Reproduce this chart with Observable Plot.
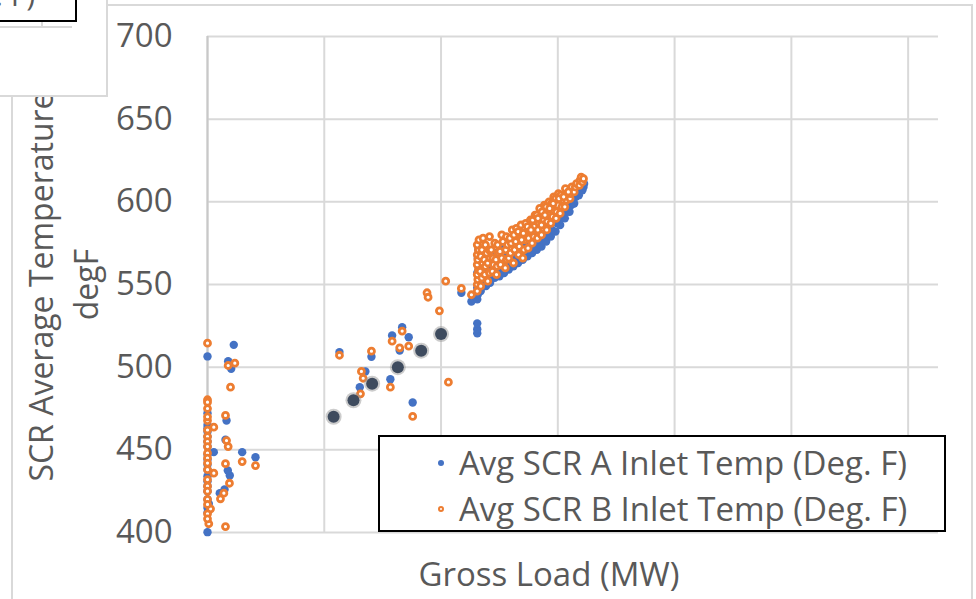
<!DOCTYPE html>
<html>
<head>
<meta charset="utf-8">
<script src="https://cdn.jsdelivr.net/npm/d3@7"></script>
<script src="https://cdn.jsdelivr.net/npm/@observablehq/plot@0.6"></script>
<style>
  html, body { margin: 0; padding: 0; background: #fff; }
  #wrap { position: relative; width: 976px; height: 599px; overflow: hidden; font-family: "Open Sans", sans-serif; color: #595959; }
  #wrap svg { position: absolute; left: 0; top: 0; }
  .frame { position: absolute; left: 11px; top: 4px; width: 962px; height: 620px; border: 2px solid #d9d9d9; box-sizing: border-box; }
  .legend { position: absolute; left: 378px; top: 435px; width: 568px; height: 97px; border: 2px solid #000; background: #fff; box-sizing: border-box; }
  .legend .row { position: absolute; left: 0; height: 44px; font-size: 33px; line-height: 44px; white-space: nowrap; }
  .legend .row span.t { position: absolute; left: 79px; top: 0; }
  .legend .mk { position: absolute; left: 58px; width: 6px; height: 6px; border-radius: 50%; top: 19px; box-sizing: border-box; }
  .topbox { position: absolute; left: -2px; top: -2px; width: 110px; height: 99px; background: #fff; border: 2px solid #d9d9d9; box-sizing: border-box; }
  .blackbox { position: absolute; left: -2px; top: -2px; width: 79px; height: 24px; border: 2px solid #000; background: #fff; box-sizing: border-box; overflow: hidden; }
  .blackbox span { position: absolute; right: 40px; top: -25px; font-size: 30px; line-height: 40px; white-space: nowrap; }
  .hline { position: absolute; left: 0; top: 26px; width: 72px; height: 2px; background: #d9d9d9; }
  .vtick { position: absolute; left: 41px; top: 21px; width: 2px; height: 6px; background: #d9d9d9; }
</style>
</head>
<body>
<div id="wrap"></div>
<script>
// Y axis ticks and X gridlines
const yTicks = [400, 450, 500, 550, 600, 650, 700];
const xGrid = [0, 100, 200, 300, 400, 500, 600];

// Series A: Avg SCR A Inlet Temp (Deg. F)  [load, temp]
const seriesA = [
  [0,400.2],[0,412],[0,415],[1.1,417.4],[0,420],[10.5,423.8],[0,425],[14.6,426],[0,428],[0,431],
  [19.1,434.5],[0,434],[17.4,437.5],[0,438],[0,441],[0,444],[41.1,445.5],[0,447],[5.4,448.6],[29.7,448.6],
  [0,452],[0,455],[15.4,456.1],[0,458],[0,461],[0,463],[0,465],[16.3,467.7],[0,472.2],[20.3,499.0],
  [17.7,503.6],[0,506.5],[22.5,513.5],
  [113,509.1],[140.4,506.3],[166.7,524.2],[158.1,519.2],[172.3,518.1],[164.6,510.1],[135.2,497.4],
  [130.4,487.9],[156.6,492.7],[175.7,478.6],[217.4,545],[226,539.7],
  [231,520.5],[231,523],[231,526.5],
  [231,541],[231.5,544],[231,548],[232,552],[231,557],[232,561],[231.5,566],[232,571],
  [234,546],[235.5,551],[236,556],[235,562],[237,568],
  [238.5,549],[239,554],[240,559],[239,565],
  [242,551],[243.5,555],[244,560],[242.5,567],
  [246,554],[247,557],[248.5,562],[247,569],
  [250,555],[251.5,559],[252,565],[250.5,571],
  [254,557],[255,562],[256.5,567],[255,573],
  [258,559],[259.5,562],[260,569],[258.5,575],
  [262,561],[263,566],[264.5,571],[263,577],
  [266,563],[267.5,567],[268,573],[266.5,579],
  [270,565],[271,568],[272.5,575],[271,581],
  [274,567],[275.5,571],[276,577],[274.5,583],
  [278,569],[279,573],[280.5,579],[279,585],
  [282,571],[283.5,575],[284,581],[282.5,588],
  [286,573],[287,577],[288.5,584],[287,591],
  [290,576],[291.5,580],[292,586],[290.5,593],
  [294,579],[295,583],[296.5,589],[295,596],
  [298,582],[299.5,587],[300,592],[299,598],
  [302,586],[303,590],[304.5,596],[303,601],
  [306,590],[307.5,594],[308,599],
  [310,594],[311.5,598],[312,603],
  [314,599],[315.5,603],[316,606],
  [318,604],[319,607],[320,609],
  [321,607],[322,609],[322.5,611]
];

// Series B: Avg SCR B Inlet Temp (Deg. F)  [load, temp]
const seriesB = [
  [0,514.5],[23.4,502.4],[17.7,501.0],[19.7,487.9],[0,480.3],[0,478.8],[15.4,470.8],[0,467.7],[5.4,463.7],
  [16.3,455.6],[17.7,452.0],[29.7,442.9],[41.1,440.5],[15.4,441.6],[5.4,435.9],[18.8,429.8],[14.0,423.8],
  [11.1,420.4],[2.6,414.3],[1.1,405.3],[15.4,403.6],[0,411.3],[0,408.3],
  [0,475],[0,470],[0,462],[0,458],[0,455],[0,452],[0,448],[0,445],[0,442],[0,438],[0,432],[0,428],
  [0,425],[0,420],[0,417],
  [113,507.2],[140.4,509.7],[166.7,521.8],[158.1,515.7],[164.6,511.7],[172.3,512.7],[131.8,497.4],
  [133.3,493.3],[131.0,483.9],[156.6,487.9],[175.7,470.2],[206.3,490.9],[198.6,534.1],[188.0,545.0],
  [188.9,542.3],[204.0,552.0],[217.4,547.6],[226.0,543.8],
  [231,546],[231,550],[231.5,553],[231,556],[232,559],[231,562],[231.5,565],[231,568],[232,571],[231,574],[232.5,577],
  [234,549],[235,554],[233.5,558],[235.5,563],[234,567],[235,571],[236,578],
  [237.5,556],[238,561],[237,565],[239,569],[238,574],
  [240,552],[241.5,557],[240,563],[242,566],[241,571],[241.5,579],
  [244,558],[245,562],[244.5,566],[243,571],[246,575],
  [247.5,556],[248,561],[247,565],[249,569],[248.5,574],
  [251,562],[252,566],[250.5,570],[253,576],[252,580],
  [255,560],[256,565],[255.5,571],[257,574],[256,579],
  [258,566],[259.5,569],[260,575],[259,578],[261,583],
  [262,563],[263,571],[264,576],[262.5,580],[264.5,584],
  [266.5,568],[267,573],[268,578],[266,582],[268.5,586],
  [270,566],[271,571],[272,577],[270.5,581],[272.5,587],
  [274.5,572],[275,578],[276,582],[274,585],[276.5,589],
  [278,575],[279.5,579],[280,585],[278.5,589],[280.5,592],
  [282.5,578],[283,583],[284,587],[282,592],[284.5,596],
  [286,580],[287.5,584],[288,589],[286.5,594],[288.5,598],
  [290.5,583],[291,588],[292,592],[290,597],[292.5,600],
  [294,587],[295.5,591],[296,595],[294.5,599],[296.5,603],
  [298.5,590],[299,594],[300,598],[298,602],[300.5,605],
  [302,593],[303.5,597],[304,601],[302.5,604],
  [306,597],[307.5,601],[308,605],[306.5,608],
  [310.5,602],[311,605],[312,609],
  [314,606],[315,609],[316,611],
  [318.5,610],[319,613],[320,615],
  [321,612],[322,614],
  [283,590],[289,592],[296,599],[301,602],[305,603],[309,606],[286,586],[293,596],[277,583],[269,577]
];

// Highlighted reference points (dark markers)
const refLoad = [108, 125, 141, 163, 183, 200];
const refTemp = [470, 480, 490, 500, 510, 520];
const refPts = refLoad.map((x, i) => [x, refTemp[i]]);

const legendLabels = ["Avg SCR A Inlet Temp (Deg. F)", "Avg SCR B Inlet Temp (Deg. F)"];
const colorA = "#4472C4", colorB = "#ED7D31", colorRef = "#3E4B5E";

const plot = Plot.plot({
  width: 976,
  height: 599,
  marginLeft: 207,
  marginRight: 38,
  marginTop: 36,
  marginBottom: 67,
  style: { fontFamily: "Open Sans, sans-serif", fontSize: "33px", color: "#595959", background: "transparent", overflow: "visible" },
  x: { domain: [0, 626], axis: null },
  y: { domain: [400, 700], axis: null },
  marks: [
    Plot.gridX(xGrid, { stroke: "#d9d9d9", strokeOpacity: 1, strokeWidth: 2 }),
    Plot.gridY(yTicks, { stroke: "#d9d9d9", strokeOpacity: 1, strokeWidth: 2 }),
    Plot.ruleX([0], { stroke: "#c8c8c8", strokeWidth: 2 }),
    Plot.axisY(yTicks, { tickSize: 0, tickPadding: 35, fontSize: 33, fill: "#595959", anchor: "left", label: null }),
    Plot.dot(seriesA, { x: d => d[0], y: d => d[1], r: 4.2, fill: colorA, stroke: "none" }),
    Plot.dot(seriesB, { x: d => d[0], y: d => d[1], r: 3, fill: "#fff", stroke: colorB, strokeWidth: 2.8 }),
    Plot.dot(refPts, { x: d => d[0], y: d => d[1], r: 8, fill: "#9a9a9a", fillOpacity: 0.5, stroke: "none" }),
    Plot.dot(refPts, { x: d => d[0], y: d => d[1], r: 6, fill: colorRef, stroke: "none" }),
    Plot.text(["Gross Load (MW)"], { frameAnchor: "bottom", dx: -24, dy: 53, fontSize: 33, fill: "#595959", textAnchor: "middle" }),
    Plot.text(["SCR Average Temperature"], { frameAnchor: "left", dx: -165, dy: 2, rotate: -90, fontSize: 32, fill: "#595959", textAnchor: "middle" }),
    Plot.text(["degF"], { frameAnchor: "left", dx: -120, rotate: -90, fontSize: 32, fill: "#595959", textAnchor: "middle" })
  ]
});

const wrap = document.getElementById("wrap");
const frame = document.createElement("div");
frame.className = "frame";
wrap.appendChild(frame);
wrap.appendChild(plot);

const legend = document.createElement("div");
legend.className = "legend";
[[colorA, true], [colorB, false]].forEach(([c, filled], i) => {
  const row = document.createElement("div");
  row.className = "row";
  row.style.top = (i === 0 ? 4 : 50) + "px";
  row.style.width = "100%";
  const mk = document.createElement("div");
  mk.className = "mk";
  if (filled) { mk.style.background = c; }
  else { mk.style.background = "#fff"; mk.style.border = "2px solid " + c; }
  const t = document.createElement("span");
  t.className = "t";
  t.textContent = legendLabels[i];
  row.appendChild(mk);
  row.appendChild(t);
  legend.appendChild(row);
});
wrap.appendChild(legend);

const topbox = document.createElement("div");
topbox.className = "topbox";
wrap.appendChild(topbox);
const hline = document.createElement("div"); hline.className = "hline"; wrap.appendChild(hline);
const vtick = document.createElement("div"); vtick.className = "vtick"; wrap.appendChild(vtick);
const blackbox = document.createElement("div");
blackbox.className = "blackbox";
const bt = document.createElement("span");
bt.textContent = "(Deg. F)";
blackbox.appendChild(bt);
wrap.appendChild(blackbox);
</script>
</body>
</html>
